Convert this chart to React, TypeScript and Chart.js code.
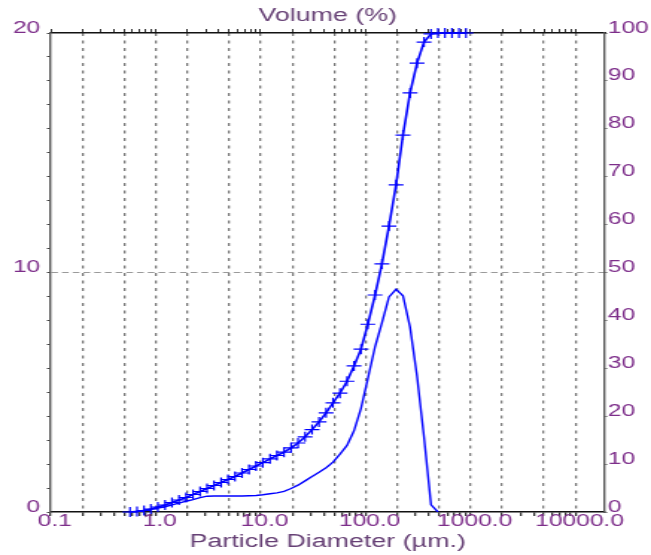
import { useEffect, useRef } from 'react';
import { Chart, registerables } from 'chart.js';

Chart.register(...registerables);

// Particle size bins (µm)
const particleSizes = [
  0.57, 0.665, 0.775, 0.9, 1.05, 1.23, 1.43, 1.67, 1.95, 2.27,
  2.65, 3.09, 3.6, 4.2, 4.89, 5.7, 6.65, 7.75, 9.04, 10.5,
  12.3, 14.3, 16.7, 19.5, 22.7, 26.5, 30.9, 36.0, 42.0, 48.9,
  57.0, 66.5, 77.5, 90.4, 105, 123, 143, 167, 195, 227,
  265, 309, 360, 420, 489, 570, 665, 775, 904,
];

// Cumulative volume undersize (%), right axis, "+" markers
const cumulativeUndersize = [
  0, 0.1, 0.31, 0.63, 1.04, 1.46, 1.98, 2.51, 3.03, 3.65,
  4.28, 4.91, 5.53, 6.16, 6.78, 7.41, 8.14, 8.87, 9.6, 10.3,
  11.1, 11.8, 12.5, 13.4, 14.4, 15.7, 17.2, 18.8, 20.7, 22.8,
  24.8, 27.3, 30.5, 34.0, 39.2, 45.3, 51.8, 59.7, 68.3, 78.7,
  87.5, 93.7, 98.1, 99.8, 100, 100, 100, 100, 100,
];

// Volume (%) per size class, left axis
const volumeDensity = [
  0, 0.03, 0.07, 0.11, 0.16, 0.22, 0.3, 0.37, 0.45, 0.52,
  0.6, 0.66, 0.67, 0.67, 0.67, 0.67, 0.67, 0.68, 0.69, 0.72,
  0.76, 0.8, 0.86, 0.98, 1.12, 1.3, 1.48, 1.66, 1.85, 2.08,
  2.42, 2.78, 3.39, 4.33, 5.57, 6.9, 7.9, 8.98, 9.3, 9.03,
  7.72, 5.67, 3.13, 0.3, 0,
];

// Axis ticks and labels
const xLabelValues = [0.1, 1, 10, 100, 1000, 10000];
const xLabelTexts = ['0.1', '1.0', '10.0', '100.0', '1000.0', '10000.0'];
const xMinorSteps = [1, 2, 3, 4, 5, 6, 7, 8, 9];
const xGridSteps = [1, 2, 5];
const leftLabelValues = [0, 10, 20];
const leftReferenceLine = 10;

const X_MIN = 0.1;
const X_MAX = 19000;

const xTickValues: number[] = [];
for (const d of xLabelValues) {
  for (const m of xMinorSteps) {
    const v = Number((d * m).toPrecision(6));
    if (v >= X_MIN && v <= X_MAX) xTickValues.push(v);
  }
}

const FONT = "'Liberation Sans', Arial, sans-serif";
const LABEL_COLOR = '#7d2e8a';
const TITLE_COLOR = '#664075';
const BLUE = '#0000ff';

const VIEW_W = 651;
const VIEW_H = 555;
const CANVAS_W = 437; // drawn narrower, then stretched to the view width

const significand = (v: number) => {
  const e = Math.floor(Math.log10(v) + 1e-9);
  return Math.round(v / Math.pow(10, e));
};

const setXTicks = (scale: any) => {
  scale.ticks = xTickValues.map((value) => ({ value }));
};

export default function App() {
  const ref = useRef<HTMLCanvasElement>(null);

  useEffect(() => {
    const canvas = ref.current;
    if (!canvas) return;

    const cumData = particleSizes.map((x, i) => ({ x, y: cumulativeUndersize[i] }));
    const densData = volumeDensity.map((y, i) => ({ x: particleSizes[i], y }));

    const chart = new Chart(canvas, {
      type: 'line',
      data: {
        datasets: [
          {
            label: 'Cumulative',
            data: cumData,
            xAxisID: 'x',
            yAxisID: 'y1',
            borderColor: BLUE,
            backgroundColor: BLUE,
            borderWidth: 1.6,
            pointStyle: 'cross',
            pointRadius: 5,
            pointBorderWidth: 1.2,
            pointBorderColor: BLUE,
            tension: 0,
            fill: false,
            clip: 8,
          },
          {
            label: 'Volume',
            data: densData,
            xAxisID: 'x',
            yAxisID: 'y',
            borderColor: BLUE,
            borderWidth: 1.4,
            pointRadius: 0,
            tension: 0,
            fill: false,
          },
        ],
      },
      options: {
        animation: false,
        responsive: false,
        devicePixelRatio: 1,
        layout: { padding: 0 },
        plugins: {
          legend: { display: false },
          tooltip: { enabled: false },
          title: { display: false },
        },
        scales: {
          x: {
            type: 'logarithmic',
            position: 'bottom',
            min: X_MIN,
            max: X_MAX,
            afterBuildTicks: setXTicks,
            afterFit: (s: any) => { s.height = 43; },
            ticks: {
              autoSkip: false,
              maxRotation: 0,
              padding: -4,
              labelOffset: 2.7,
              color: LABEL_COLOR,
              font: { family: FONT, size: 16.5 },
              callback: (value: any) => {
                const v = Number(value);
                const i = xLabelValues.findIndex((t) => Math.abs(t - v) < t * 1e-6);
                return i >= 0 ? xLabelTexts[i] : '';
              },
            },
            grid: {
              drawOnChartArea: true,
              drawTicks: true,
              tickLength: 4,
              tickColor: '#333',
              lineWidth: 1.3,
              color: (ctx: any) => {
                const v = ctx.tick && ctx.tick.value;
                if (v == null || v <= X_MIN * 1.0001) return 'rgba(0,0,0,0)';
                return xGridSteps.includes(significand(v)) ? '#7a7a7a' : 'rgba(0,0,0,0)';
              },
            },
            border: { display: true, color: '#111', width: 1.5, dash: [3, 4.5] },
            title: {
              display: true,
              text: 'Particle Diameter (µm.)',
              color: TITLE_COLOR,
              font: { family: FONT, size: 18 },
              padding: { top: 0, bottom: 2 },
            },
          },
          xTop: {
            type: 'logarithmic',
            position: 'top',
            min: X_MIN,
            max: X_MAX,
            afterBuildTicks: setXTicks,
            afterFit: (s: any) => { s.height = 33; },
            ticks: { display: false, autoSkip: false },
            grid: {
              drawOnChartArea: false,
              drawTicks: true,
              tickLength: 4,
              tickColor: '#333',
              color: '#333',
            },
            border: { display: true, color: '#111', width: 1.5 },
            title: {
              display: true,
              text: 'Volume (%)',
              color: TITLE_COLOR,
              font: { family: FONT, size: 18 },
              padding: { top: 5, bottom: 0 },
            },
          },
          y: {
            type: 'linear',
            position: 'left',
            min: 0,
            max: 20,
            afterFit: (s: any) => { s.width = 34; },
            ticks: {
              stepSize: 1,
              autoSkip: false,
              padding: 4.5,
              labelOffset: -5,
              color: LABEL_COLOR,
              font: { family: FONT, size: 16.5 },
              callback: (value: any) =>
                leftLabelValues.includes(Number(value)) ? String(value) : '',
            },
            grid: {
              drawOnChartArea: true,
              drawTicks: true,
              tickLength: 2.5,
              tickColor: '#444',
              color: (ctx: any) =>
                ctx.tick && ctx.tick.value === leftReferenceLine ? '#9a9a9a' : 'rgba(0,0,0,0)',
            },
            border: { display: true, color: '#555', width: 1.4, dash: [4.5, 2.7] },
          },
          y1: {
            type: 'linear',
            position: 'right',
            min: 0,
            max: 100,
            afterFit: (s: any) => { s.width = CANVAS_W - 406; },
            ticks: {
              stepSize: 10,
              autoSkip: false,
              padding: 0.5,
              labelOffset: -5,
              color: LABEL_COLOR,
              font: { family: FONT, size: 16.5 },
            },
            grid: {
              drawOnChartArea: false,
              drawTicks: true,
              tickLength: 1.5,
              tickColor: '#444',
            },
            border: { display: true, color: '#555', width: 1.4 },
          },
        },
      } as any,
    });

    return () => chart.destroy();
  }, []);

  return (
    <div
      style={{
        position: 'absolute',
        left: 0,
        top: 0,
        width: VIEW_W,
        height: VIEW_H,
        background: '#fff',
      }}
    >
      <canvas
        ref={ref}
        width={CANVAS_W}
        height={VIEW_H}
        style={{ width: `${VIEW_W}px`, height: `${VIEW_H}px`, display: 'block' }}
      />
    </div>
  );
}
